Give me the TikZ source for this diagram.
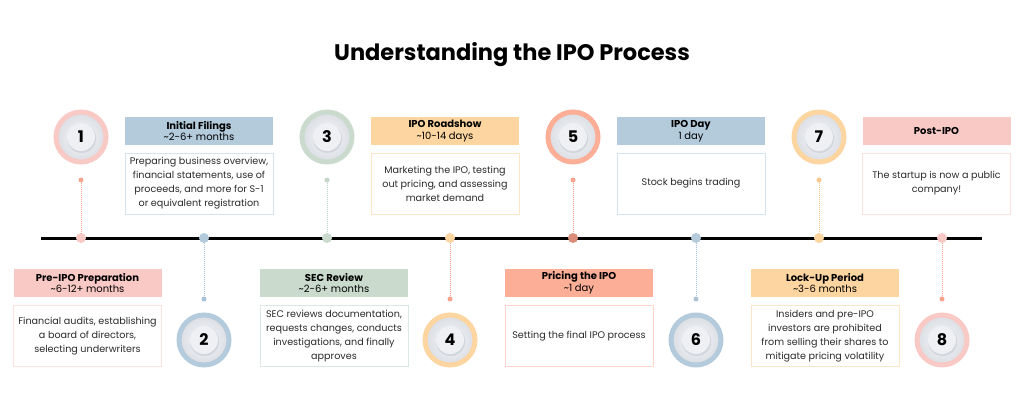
\documentclass[tikz,border=0pt]{standalone}
\usepackage{fontspec}
\setmainfont{Poppins}
\definecolor{pinkC}{HTML}{F9C9C5}
\definecolor{blueC}{HTML}{B4CBDC}
\definecolor{greenC}{HTML}{CADBCE}
\definecolor{peachC}{HTML}{FCD5A0}
\definecolor{salmonC}{HTML}{FCAE97}
\definecolor{pinkL}{HTML}{FCE1DF}
\definecolor{blueL}{HTML}{D6E3EC}
\definecolor{greenL}{HTML}{DDE8E0}
\definecolor{peachL}{HTML}{FDE6C8}
\definecolor{salmonL}{HTML}{FDD5C9}
\definecolor{salmonD}{HTML}{DA8D79}
\definecolor{conSal}{HTML}{F6A48E}
\definecolor{conBlue}{HTML}{A9C2D6}
\definecolor{conGreen}{HTML}{C3D6C8}
\definecolor{conPeach}{HTML}{F9C88E}
\definecolor{txt}{HTML}{2B2B2B}
\definecolor{plateA}{HTML}{F7F8FA}
\definecolor{plateB}{HTML}{DADDE3}
\definecolor{plateIn}{HTML}{EEF0F4}
\definecolor{plateSh}{HTML}{D3D6DD}
\begin{document}
\begin{tikzpicture}[x=1pt,y=-1pt,
  ring/.style={circle, minimum size=50pt, inner sep=0pt, line width=5pt, draw=#1,
    inner color=plateA, outer color=plateB,
    font=\fontsize{16}{16}\selectfont\bfseries, text=black,
    path picture={
      \fill[plateSh] ([shift={(0.6pt,-1.4pt)}]path picture bounding box.center) circle (14.6pt);
      \fill[plateIn] (path picture bounding box.center) circle (14pt);
    }},
  tdot/.style={circle, minimum size=10pt, inner sep=0pt, fill=#1},
  sdot/.style={circle, minimum size=5pt, inner sep=0pt, fill=#1},
  conn/.style={draw=#1, line width=0.9pt, dash pattern=on 0.9pt off 1.1pt},
  hdr/.style={rectangle, minimum width=148pt, minimum height=28pt, inner sep=0pt,
    fill=#1, align=center, text=black, font=\fontsize{10}{11.5}\selectfont},
  desc/.style={rectangle, minimum width=148pt, minimum height=61pt, inner sep=0pt,
    draw=#1, line width=0.8pt, fill=white, align=center, text=txt,
    font=\fontsize{9.6}{14}\selectfont}
]
\useasboundingbox (0,0) rectangle (1024,410);
\fill[white] (0,0) rectangle (1024,410);

\node[anchor=base, font=\fontsize{22.5}{22.5}\selectfont\bfseries] (title) at (512,60) {Understanding the IPO Process};

% timeline
\coordinate (L) at (41,238);
\coordinate (R) at (982,238);
\draw[line width=3pt, black] (L) -- (R);

\node[tdot=pinkC]   (t1) at (81,238) {};
\node[tdot=blueC]   (t2) at (204,238) {};
\node[tdot=greenC]  (t3) at (327,238) {};
\node[tdot=peachC]  (t4) at (450,238) {};
\node[tdot=salmonD] (t5) at (573,238) {};
\node[tdot=blueC]   (t6) at (696,238) {};
\node[tdot=peachC]  (t7) at (819,238) {};
\node[tdot=pinkC]   (t8) at (942,238) {};

% small dots
\node[sdot=conSal]   (d1) at (81,180) {};
\node[sdot=conBlue]  (d2) at (204,299) {};
\node[sdot=conGreen] (d3) at (327,180) {};
\node[sdot=conSal]   (d4) at (450,299) {};
\node[sdot=conSal]   (d5) at (573,180) {};
\node[sdot=conBlue]  (d6) at (696,299) {};
\node[sdot=conPeach] (d7) at (819,180) {};
\node[sdot=conSal]   (d8) at (942,299) {};

\draw[conn=conSal]   (d1) -- (t1);
\draw[conn=conBlue]  (d2) -- (t2);
\draw[conn=conGreen] (d3) -- (t3);
\draw[conn=conSal]   (d4) -- (t4);
\draw[conn=conSal]   (d5) -- (t5);
\draw[conn=conBlue]  (d6) -- (t6);
\draw[conn=conPeach] (d7) -- (t7);
\draw[conn=conSal]   (d8) -- (t8);

% circles
\node[ring=pinkC]   (c1) at (81,137) {1};
\node[ring=blueC]   (c2) at (204,340) {2};
\node[ring=greenC]  (c3) at (327,137) {3};
\node[ring=peachC]  (c4) at (450,340) {4};
\node[ring=salmonC] (c5) at (573,137) {5};
\node[ring=blueC]   (c6) at (696,340) {6};
\node[ring=peachC]  (c7) at (819,137) {7};
\node[ring=pinkC]   (c8) at (942,340) {8};

% headers and descriptions
\node[hdr=pinkC] (h1) at (87.5,283) {\textbf{Pre-IPO Preparation}\\\textasciitilde6-12+ months};
\node[desc=pinkL] (b1) at (87.5,336) {Financial audits, establishing\\a board of directors,\\selecting underwriters};

\node[hdr=blueC] (h2) at (199,131) {\textbf{Initial Filings}\\\textasciitilde2-6+ months};
\node[desc=blueL] (b2) at (199,183.5) {Preparing business overview,\\financial statements, use of\\proceeds, and more for S-1\\or equivalent registration};

\node[hdr=greenC] (h3) at (334,283) {\textbf{SEC Review}\\\textasciitilde2-6+ months};
\node[desc=greenL] (b3) at (334,336) {SEC reviews documentation,\\requests changes, conducts\\investigations, and finally\\approves};

\node[hdr=peachC] (h4) at (445,131) {\textbf{IPO Roadshow}\\\textasciitilde10-14 days};
\node[desc=peachL] (b4) at (445,183.5) {Marketing the IPO, testing\\out pricing, and assessing\\market demand};

\node[hdr=salmonC] (h5) at (579,283) {\textbf{Pricing the IPO}\\\textasciitilde1 day};
\node[desc=salmonL] (b5) at (579,336) {Setting the final IPO process};

\node[hdr=blueC] (h6) at (691,131) {\textbf{IPO Day}\\1 day};
\node[desc=blueL] (b6) at (691,183.5) {Stock begins trading};

\node[hdr=peachC] (h7) at (825,283) {\textbf{Lock-Up Period}\\\textasciitilde3-6 months};
\node[desc=peachL] (b7) at (825,336) {Insiders and pre-IPO\\investors are prohibited\\from selling their shares to\\mitigate pricing volatility};

\node[hdr=pinkC] (h8) at (936.5,131) {\textbf{Post-IPO}};
\node[desc=pinkL] (b8) at (936.5,183.5) {The startup is now a public\\company!};
\end{tikzpicture}
\end{document}
